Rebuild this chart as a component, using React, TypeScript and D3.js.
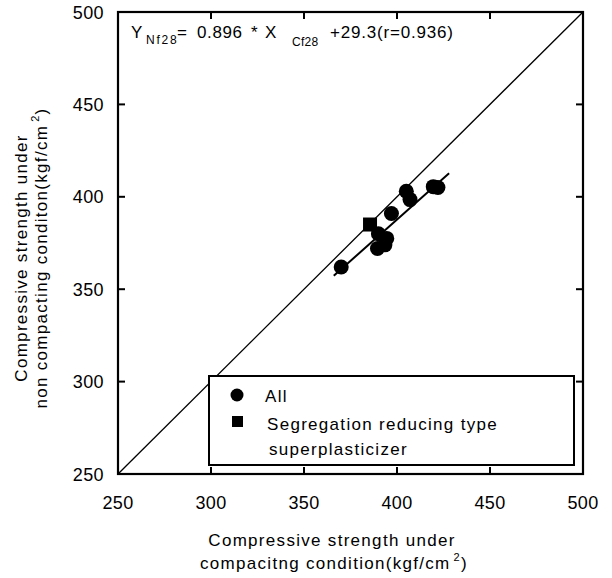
import React from "react";
import * as d3 from "d3";

const xTicks = [250, 300, 350, 400, 450, 500];
const yTicks = [250, 300, 350, 400, 450, 500];
const allX = [370, 390, 394.5, 389.5, 393.5, 397, 405, 407, 419.5, 422];
const allY = [362, 380, 377.5, 372, 374, 391, 403, 398.5, 405.5, 405];
const sprX = [385.5];
const sprY = [385];
const slope = 0.896;
const intercept = 29.3;
const fitRange = [366, 428];

const FONT = "'Liberation Sans', Arial, Helvetica, sans-serif";
const FS = 17;
const LS = 1.3;

export default function App() {
  const x = d3.scaleLinear().domain([250, 500]).range([118, 583]);
  const y = d3.scaleLinear().domain([250, 500]).range([474, 12]);
  const line = d3.line<number>().x((d) => x(d)).y((d) => y(slope * d + intercept));
  const tickLen = 7;
  const txt = { fontFamily: FONT, fontSize: FS, fill: "#000", letterSpacing: LS } as const;
  return (
    <svg width={612} height={578} style={{ position: "absolute", left: 0, top: 0, background: "#fff" }}>
      <rect x={0} y={0} width={612} height={578} fill="#fff" />
      {/* diagonal */}
      <line x1={x(250)} y1={y(250)} x2={x(500)} y2={y(500)} stroke="#000" strokeWidth={1.3} />
      {/* regression */}
      <path d={line(fitRange) || ""} stroke="#000" strokeWidth={2} fill="none" />
      {/* points */}
      {allX.map((v, i) => (
        <circle key={"c" + i} cx={x(v)} cy={y(allY[i])} r={7.5} fill="#000" />
      ))}
      {sprX.map((v, i) => (
        <rect key={"s" + i} x={x(v) - 7} y={y(sprY[i]) - 7} width={14} height={14} fill="#000" />
      ))}
      {/* ticks */}
      {xTicks.slice(1, -1).map((t) => (
        <g key={"xt" + t}>
          <line x1={x(t)} x2={x(t)} y1={y(250)} y2={y(250) - tickLen} stroke="#000" strokeWidth={2} />
          <line x1={x(t)} x2={x(t)} y1={y(500)} y2={y(500) + tickLen} stroke="#000" strokeWidth={2} />
        </g>
      ))}
      {yTicks.slice(1, -1).map((t) => (
        <g key={"yt" + t}>
          <line x1={x(250)} x2={x(250) + tickLen} y1={y(t)} y2={y(t)} stroke="#000" strokeWidth={2} />
          <line x1={x(500)} x2={x(500) - tickLen} y1={y(t)} y2={y(t)} stroke="#000" strokeWidth={2} />
        </g>
      ))}
      {/* frame */}
      <rect x={x(250)} y={y(500)} width={x(500) - x(250)} height={y(250) - y(500)} fill="none" stroke="#000" strokeWidth={2.2} />
      {/* tick labels */}
      {xTicks.map((t) => (
        <text key={"xl" + t} x={x(t)} y={509} textAnchor="middle" fontFamily={FONT} fontSize={18} letterSpacing={0.4} fill="#000">
          {t}
        </text>
      ))}
      {yTicks.map((t) => (
        <text key={"yl" + t} x={104} y={y(t) + 6.5} textAnchor="end" fontFamily={FONT} fontSize={18} letterSpacing={0.4} fill="#000">
          {t}
        </text>
      ))}
      {/* equation */}
      <g fontFamily={FONT} fill="#000">
        <text x={131} y={38} fontSize={FS}>Y</text>
        <text x={146} y={44} fontSize={12} letterSpacing={1.8}>Nf28</text>
        <text x={177} y={38} fontSize={FS}>=</text>
        <text x={197} y={38} fontSize={FS} letterSpacing={0.6}>0.896</text>
        <text x={251} y={38} fontSize={FS}>*</text>
        <text x={265} y={38} fontSize={FS}>X</text>
        <text x={292} y={46} fontSize={12} letterSpacing={0.3}>Cf28</text>
        <text x={330} y={38} fontSize={FS} letterSpacing={0.8}>+29.3(r=0.936)</text>
      </g>
      {/* legend */}
      <rect x={209} y={376} width={365} height={89} fill="#fff" stroke="#000" strokeWidth={2} />
      <circle cx={237} cy={395} r={6.5} fill="#000" />
      <rect x={232} y={416} width={11} height={11} fill="#000" />
      <text x={265} y={402} {...txt}>All</text>
      <text x={267} y={430} {...txt}>Segregation reducing type</text>
      <text x={269} y={455} {...txt}>superplasticizer</text>
      {/* axis titles */}
      <text x={332} y={546} textAnchor="middle" {...txt}>
        Compressive strength under
      </text>
      <text x={334} y={569} textAnchor="middle" {...txt}>
        <tspan>compacitng condition(kgf/cm</tspan>
        <tspan fontSize={11} dy={-8} dx={3}>2</tspan>
        <tspan dy={8}>)</tspan>
      </text>
      <g transform="translate(27,258) rotate(-90)">
        <text x={0} y={0} textAnchor="middle" {...txt}>
          Compressive strength under
        </text>
        <text x={0} y={20} textAnchor="middle" {...txt}>
          <tspan>non compacting conditon(kgf/cm</tspan>
          <tspan fontSize={11} dy={-8} dx={3}>2</tspan>
          <tspan dy={8}>)</tspan>
        </text>
      </g>
    </svg>
  );
}
